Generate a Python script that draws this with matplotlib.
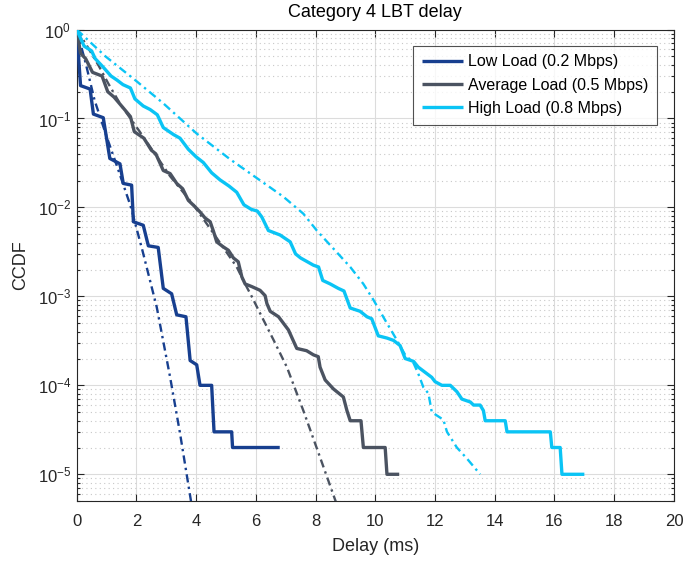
import matplotlib
matplotlib.use("Agg")
import matplotlib.pyplot as plt
from matplotlib.ticker import LogLocator, NullFormatter, MultipleLocator

plt.rcParams["font.family"] = ["Liberation Sans", "DejaVu Sans"]
plt.rcParams["mathtext.fontset"] = "custom"
plt.rcParams["mathtext.rm"] = "Liberation Sans"
plt.rcParams["mathtext.it"] = "Liberation Sans:italic"

# Measured CCDF of the LBT delay (ms) for each load
low_x = [0, 0.13, 0.45, 0.56, 0.89, 1.11, 1.45, 1.56, 1.84, 1.90, 2.23, 2.40, 2.73,
         2.90, 3.18, 3.35, 3.66, 3.80, 4.02, 4.13, 4.52, 4.60, 5.19, 5.22, 6.80]
low_y = [1, 0.234, 0.214, 0.112, 0.102, 0.0355, 0.0309, 0.0186, 0.0178, 0.0069, 0.0063,
         0.0037, 0.00355, 0.00123, 0.00107, 6.2e-4, 5.9e-4, 1.9e-4, 1.7e-4, 1e-4, 1e-4,
         3e-5, 3e-5, 2e-5, 2e-5]

avg_x = [0, 0.13, 0.30, 0.53, 0.85, 1.04, 1.25, 1.45, 1.63, 1.80, 1.93, 2.25, 2.50,
         2.65, 2.90, 3.13, 3.35, 3.55, 3.74, 3.96, 4.13, 4.30, 4.47, 4.58, 4.69, 4.91,
         5.08, 5.25, 5.41, 5.53, 5.64, 5.86, 6.14, 6.31, 6.37, 6.48, 6.76, 7.09, 7.37,
         7.70, 7.93, 8.09, 8.15, 8.32, 8.60, 8.93, 9.05, 9.16, 9.52, 9.60, 10.33, 10.39,
         10.80]
avg_y = [1, 0.54, 0.47, 0.33, 0.30, 0.20, 0.174, 0.145, 0.123, 0.105, 0.071, 0.060,
         0.044, 0.040, 0.026, 0.024, 0.0186, 0.0162, 0.0120, 0.0102, 0.0089, 0.0076,
         0.0069, 0.0054, 0.0041, 0.0036, 0.0033, 0.0027, 0.00245, 0.00166, 0.00138,
         0.00129, 0.00117, 0.00102, 8.3e-4, 6.8e-4, 5.9e-4, 4.2e-4, 2.6e-4, 2.45e-4,
         2.2e-4, 2.1e-4, 1.6e-4, 1.15e-4, 9.1e-5, 7.4e-5, 5.2e-5, 4e-5, 4e-5, 2e-5,
         2e-5, 1e-5, 1e-5]

high_x = [0, 0.25, 0.50, 0.62, 0.88, 1.15, 1.35, 1.55, 1.80, 1.95, 2.23, 2.46, 2.70,
          2.90, 3.24, 3.46, 3.74, 4.00, 4.24, 4.52, 4.80, 5.10, 5.36, 5.60, 5.85, 6.05,
          6.20, 6.42, 6.81, 7.15, 7.33, 7.50, 7.93, 8.10, 8.24, 8.49, 8.76, 8.95, 9.16,
          9.49, 9.72, 9.88, 10.10, 10.39, 10.61, 10.83, 11.00, 11.28, 11.44, 11.73,
          11.89, 12.00, 12.23, 12.51, 12.73, 12.90, 13.18, 13.29, 13.51, 13.62, 13.68,
          14.35, 14.41, 15.86, 15.91, 16.19, 16.25, 17.00]
high_y = [1, 0.65, 0.575, 0.47, 0.38, 0.30, 0.27, 0.24, 0.22, 0.166, 0.138, 0.126, 0.11,
          0.079, 0.066, 0.060, 0.045, 0.037, 0.032, 0.0245, 0.0204, 0.0174, 0.0148,
          0.0107, 0.0095, 0.0091, 0.0078, 0.0055, 0.0049, 0.0041, 0.0030, 0.0027,
          0.00224, 0.00214, 0.00151, 0.00138, 0.00123, 0.00115, 7.4e-4, 6.8e-4, 5.9e-4,
          5.6e-4, 3.6e-4, 3.4e-4, 3.2e-4, 2.8e-4, 2.0e-4, 1.86e-4, 1.6e-4, 1.35e-4,
          1.23e-4, 1.1e-4, 1e-4, 1e-4, 8.5e-5, 7e-5, 6.5e-5, 6e-5, 6e-5, 5.2e-5, 4e-5,
          4e-5, 3e-5, 3e-5, 2e-5, 2e-5, 1e-5, 1e-5]

# Analytical CCDF for each load
low_model_x = [0, 0.30, 0.60, 1.00, 1.40, 1.80, 2.20, 2.68, 3.13, 3.46, 3.85]
low_model_y = [1, 0.42, 0.16, 0.063, 0.026, 0.0105, 0.0033, 7.6e-4, 1.23e-4, 2.9e-5,
               4.5e-6]

avg_model_x = [0, 0.35, 0.74, 1.08, 1.46, 1.80, 2.10, 2.79, 3.13, 3.91, 4.60, 5.36,
               5.64, 5.86, 6.20, 6.60, 7.04, 7.59, 8.15, 8.75]
avg_model_y = [1, 0.65, 0.39, 0.24, 0.145, 0.10, 0.072, 0.033, 0.0224, 0.0107, 0.0050,
               0.00214, 0.00138, 0.0010, 5.9e-4, 3.2e-4, 1.6e-4, 5.2e-5, 1.55e-5, 4.2e-6]

high_model_x = [0, 0.96, 2.0, 2.9, 4.02, 5.14, 6.03, 6.92, 7.59, 8.04, 8.76, 9.16, 9.6,
                9.94, 10.33, 10.66, 11.0, 11.28, 11.44, 11.61, 11.78, 11.89, 12.28,
                12.4, 12.73, 13.07, 13.51]
high_model_y = [1, 0.50, 0.263, 0.148, 0.0676, 0.0347, 0.0214, 0.0132, 0.0085, 0.0055,
                0.0030, 0.00214, 0.00138, 9.1e-4, 5.4e-4, 3.5e-4, 2.2e-4, 1.78e-4,
                1.35e-4, 9.5e-5, 8.1e-5, 5.0e-5, 4.1e-5, 3.0e-5, 2.0e-5, 1.5e-5, 1.0e-5]

labels = ["Low Load (0.2 Mbps)", "Average Load (0.5 Mbps)", "High Load (0.8 Mbps)"]
colors = ["#173f8f", "#4b5361", "#0ac4f5"]

fig = plt.figure(figsize=(6.87, 5.63), dpi=100)
ax = fig.add_axes([0.1116, 0.110, 0.8694, 0.8376])

measured = [(low_x, low_y), (avg_x, avg_y), (high_x, high_y)]
models = [(low_model_x, low_model_y), (avg_model_x, avg_model_y),
          (high_model_x, high_model_y)]

for (mx, my), col in zip(models, colors):
    ax.plot(mx, my, color=col, lw=1.7, dashes=(3.5, 1.8, 1, 1.8),
            solid_joinstyle="round", zorder=3)

handles = []
for (sx, sy), col, lab in zip(measured, colors, labels):
    h, = ax.plot(sx, sy, color=col, lw=2.4, solid_joinstyle="round",
                 solid_capstyle="butt", label=lab, zorder=4)
    handles.append(h)

ax.set_yscale("log")
ax.set_xlim(0, 20)
ax.set_ylim(5e-6, 1)
ax.xaxis.set_major_locator(MultipleLocator(2))
ax.yaxis.set_major_locator(LogLocator(base=10, numticks=20))
ax.yaxis.set_minor_locator(LogLocator(base=10, subs=range(2, 10), numticks=50))
ax.yaxis.set_minor_formatter(NullFormatter())

ax.grid(True, which="major", color="#dcdcdc", lw=0.8, zorder=0)
ax.grid(True, which="minor", axis="y", color="#c8c8c8", lw=0.8,
        linestyle=(0, (1, 3)), zorder=0)
ax.set_axisbelow(True)

for sp in ax.spines.values():
    sp.set_color("#262626")
    sp.set_linewidth(0.8)
ax.tick_params(which="both", direction="in", top=True, right=True,
               colors="#262626", labelsize=12, width=0.8)
ax.tick_params(which="major", length=5)
ax.tick_params(which="minor", length=2.5)
ax.tick_params(axis="x", pad=9)
ax.tick_params(axis="y", pad=4)

ax.set_xlabel("Delay (ms)", fontsize=13, color="#262626", labelpad=7)
ax.set_ylabel("CCDF", fontsize=13, color="#262626", labelpad=6)
ax.set_title("Category 4 LBT delay", fontsize=13, color="black", pad=9)

leg = ax.legend(handles=handles, loc="upper right", bbox_to_anchor=(0.972, 0.966),
                fontsize=11.5, frameon=True, fancybox=False, handlelength=2.6,
                handletextpad=0.3, borderpad=0.55, labelspacing=0.52, borderaxespad=0)
leg.get_frame().set_edgecolor("#262626")
leg.get_frame().set_linewidth(0.8)
for line in leg.get_lines():
    line.set_linewidth(2.4)

fig.savefig("out.png", dpi=100)
